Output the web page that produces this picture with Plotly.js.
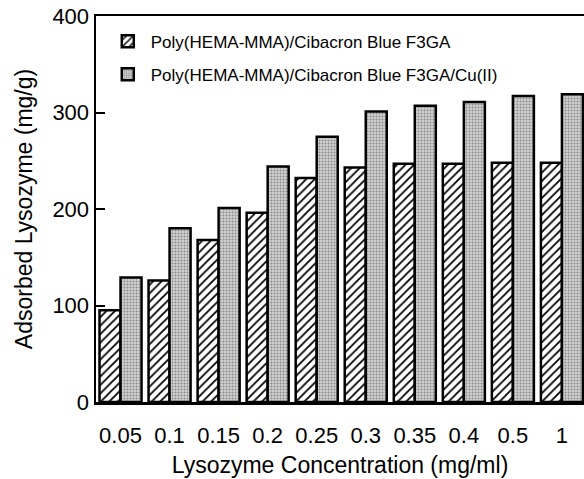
<!DOCTYPE html>
<html>
<head>
<meta charset="utf-8">
<script src="https://cdn.plot.ly/plotly-3.0.1.min.js"></script>
<style>html,body{margin:0;padding:0;background:#fff;}#chart{width:584px;height:479px;}</style>
</head>
<body>
<div id="chart"></div>
<script>
const categories = ["0.05","0.1","0.15","0.2","0.25","0.3","0.35","0.4","0.5","1"];
const seriesNames = ["Poly(HEMA-MMA)/Cibacron Blue F3GA", "Poly(HEMA-MMA)/Cibacron Blue F3GA/Cu(II)"];
const dyeValues = [95, 126, 168, 196, 232, 243, 247, 247, 248, 248];
const cuValues = [129, 180, 201, 244, 275, 301, 307, 311, 317, 319];
const yTicks = [0, 100, 200, 300, 400];

const font = "Liberation Sans, Arial, Helvetica, sans-serif";

const traces = [
  {
    type: "bar", x: categories, y: dyeValues, name: seriesNames[0], legendgroup: "a",
    marker: {
      color: "#ffffff",
      line: {color: "#000", width: 2.5},
      pattern: {shape: "/", fgcolor: "#000", bgcolor: "#fff", size: 6, solidity: 0.3}
    }
  },
  {
    type: "bar", x: categories, y: cuValues, name: seriesNames[1], legendgroup: "b",
    marker: {
      color: "#c4c4c4",
      line: {color: "#000", width: 2.5},
      pattern: {shape: ".", fgcolor: "#8a8a8a", bgcolor: "#d2d2d2", size: 3, solidity: 0.35}
    }
  }
];

const layout = {
  width: 584, height: 479,
  margin: {l: 96, r: 0, t: 16, b: 77},
  paper_bgcolor: "#fff", plot_bgcolor: "#fff",
  font: {family: font, color: "#000", size: 22},
  barmode: "group", bargap: 0.143, bargroupgap: 0,
  showlegend: true,
  legend: {
    x: 0.018, y: 0.98, xanchor: "left", yanchor: "top",
    font: {family: font, size: 17, color: "#000"},
    bgcolor: "rgba(0,0,0,0)", tracegroupgap: 8, traceorder: "grouped",
    itemwidth: 36
  },
  xaxis: {
    type: "category", range: [-0.5, 9.45],
    showline: true, linecolor: "#000", linewidth: 2.5, mirror: true,
    ticks: "", showgrid: false, zeroline: false,
    tickfont: {family: font, size: 22}, ticklabelstandoff: 12,
    title: {text: "Lysozyme Concentration (mg/ml)", font: {family: font, size: 23}, standoff: 10}
  },
  yaxis: {
    range: [0, 400], tickvals: yTicks, ticktext: yTicks.map(String),
    showline: true, linecolor: "#000", linewidth: 2.5,
    ticks: "inside", ticklen: 9, tickwidth: 2, tickcolor: "#000",
    showgrid: false, zeroline: false,
    tickfont: {family: font, size: 22},
    title: {text: "Adsorbed Lysozyme (mg/g)", font: {family: font, size: 23}, standoff: 14}
  }
};

Plotly.newPlot("chart", traces, layout, {displayModeBar: false, staticPlot: true});
</script>
</body>
</html>
